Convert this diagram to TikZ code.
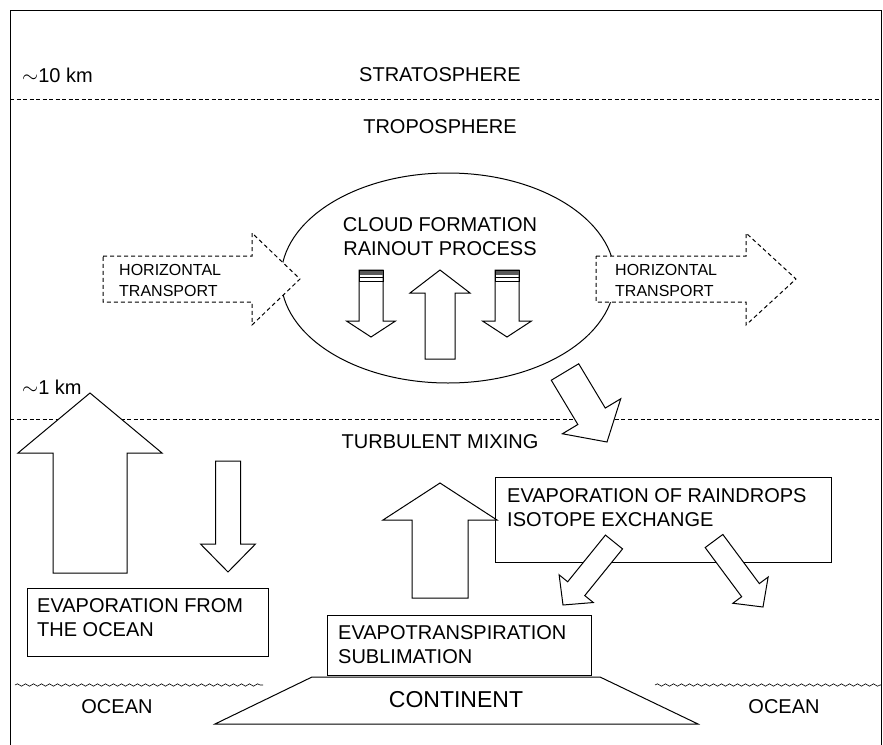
\documentclass[tikz,border=0pt]{standalone}
\usepackage{fontspec}
\setmainfont{Liberation Sans}
\usetikzlibrary{calc}
\usetikzlibrary{shapes.geometric}
\usetikzlibrary{decorations.pathmorphing}

\tikzset{
  lbl/.style={inner sep=0pt, font=\fontsize{20}{24}\selectfont},
  smalllbl/.style={inner sep=0pt, align=left, font=\fontsize{16}{21}\selectfont},
  levelline/.style={dash pattern=on 4pt off 2.5pt, line width=0.9pt},
  wave/.style={decorate, decoration={snake, amplitude=1.2pt, segment length=8pt}, line width=0.6pt},
  box/.style={draw, line width=1pt, fill=white},
}

\newcommand{\blockarrow}[6][]{%
  \coordinate (hb) at ($(#3)!#6!(#2)$);
  \draw[line width=1pt, fill=white, #1]
    ($(#2)!#4!90:(#3)$) -- ($(hb)!#4!90:(#3)$) -- ($(hb)!#5!90:(#3)$) -- (#3)
    -- ($(hb)!#5!-90:(#3)$) -- ($(hb)!#4!-90:(#3)$) -- ($(#2)!#4!-90:(#3)$) -- cycle;
}

\begin{document}
\begin{tikzpicture}[x=1pt, y=-1pt]
  \useasboundingbox (0,0) rectangle (883,744);
  \draw[line width=1pt] (10,760) -- (10,10) -- (881,10) -- (881,760);

  \node[lbl, anchor=west] (tenkm) at (22,75) {$\sim$10 km};
  \node[lbl] (strato) at (440,75) {STRATOSPHERE};
  \draw[levelline] (10,99) -- (881,99);
  \node[lbl] (tropo) at (440,127) {TROPOSPHERE};

  \node[draw, ellipse, line width=1pt, minimum width=334pt, minimum height=210pt] (cloud) at (448,278) {};
  \node[lbl, align=center] (cloudtxt) at (440,237) {CLOUD FORMATION\\RAINOUT PROCESS};

  \coordinate (lhtail) at (103,279);
  \coordinate (lhtip) at (300,279);
  \coordinate (rhtail) at (596,279);
  \coordinate (rhtip) at (796,279);
  \blockarrow[dashed, dash pattern=on 4pt off 3pt]{lhtail}{lhtip}{23pt}{46pt}{48pt}
  \blockarrow[dashed, dash pattern=on 4pt off 3pt]{rhtail}{rhtip}{23pt}{46pt}{50pt}
  \node[smalllbl, anchor=west] (lhtxt) at (119,280) {HORIZONTAL\\TRANSPORT};
  \node[smalllbl, anchor=west] (rhtxt) at (615,280) {HORIZONTAL\\TRANSPORT};

  \coordinate (uptail) at (440,359);
  \coordinate (uptip) at (440,270);
  \coordinate (ldtail) at (371,270);
  \coordinate (ldtip) at (371,337);
  \coordinate (rdtail) at (507,270);
  \coordinate (rdtip) at (507,337);
  \blockarrow{uptail}{uptip}{15pt}{30pt}{23pt}
  \blockarrow{ldtail}{ldtip}{12pt}{24.5pt}{16pt}
  \blockarrow{rdtail}{rdtip}{12pt}{24.5pt}{16pt}
  \foreach \cx in {371,507} {
    \fill[black!65] (\cx-12,270) rectangle (\cx+12,275);
    \draw[line width=0.8pt] (\cx-12,270) rectangle (\cx+12,281);
    \draw[line width=0.6pt] (\cx-12,277) -- (\cx+12,277);
  }

  \node[lbl, anchor=west] (onekm) at (22,387) {$\sim$1 km};
  \draw[levelline] (10,419) -- (881,419);
  \node[lbl] (mixing) at (440,442) {TURBULENT MIXING};

  \coordinate (cdtail) at (565,372);
  \coordinate (cdtip) at (607,442);
  \blockarrow{cdtail}{cdtip}{16pt}{34pt}{30pt}

  \node[box, minimum width=336pt, minimum height=85pt] (rainbox) at (663,519.5) {};
  \node[lbl, anchor=west, align=left] (raintxt) at (507,508) {EVAPORATION OF RAINDROPS\\ISOTOPE EXCHANGE};

  \coordinate (rltail) at (614,542);
  \coordinate (rltip) at (563,605);
  \coordinate (rrtail) at (714,541);
  \coordinate (rrtip) at (763,607);
  \blockarrow{rltail}{rltip}{11pt}{22pt}{21pt}
  \blockarrow{rrtail}{rrtip}{11pt}{22pt}{21pt}

  \coordinate (bltail) at (90,573);
  \coordinate (bltip) at (90,393);
  \coordinate (sdtail) at (228,461);
  \coordinate (sdtip) at (228,572);
  \coordinate (mutail) at (440,598);
  \coordinate (mutip) at (440,483);
  \blockarrow{bltail}{bltip}{37pt}{72pt}{60pt}
  \blockarrow{sdtail}{sdtip}{12.5pt}{27.5pt}{28pt}
  \blockarrow{mutail}{mutip}{28pt}{57pt}{37pt}

  \node[box, minimum width=241pt, minimum height=68pt] (oceanbox) at (147.5,622) {};
  \node[lbl, anchor=west, align=left] (oceantxt) at (37,618) {EVAPORATION FROM\\THE OCEAN};

  \node[box, minimum width=264pt, minimum height=60pt] (evapbox) at (459,645) {};
  \node[lbl, anchor=west, align=left] (evaptxt) at (338,644.5) {EVAPOTRANSPIRATION\\SUBLIMATION};

  \draw[line width=1pt] (215,724) -- (312,677) -- (600,677) -- (698,724) -- cycle;
  \node[inner sep=0pt, font=\fontsize{23}{27}\selectfont] (continent) at (456,700) {CONTINENT};

  \draw[wave] (15,685) -- (263,685);
  \draw[wave] (655,685) -- (881,685);
  \node[lbl] (oceanl) at (117,707) {OCEAN};
  \node[lbl] (oceanr) at (784,707) {OCEAN};
\end{tikzpicture}
\end{document}
